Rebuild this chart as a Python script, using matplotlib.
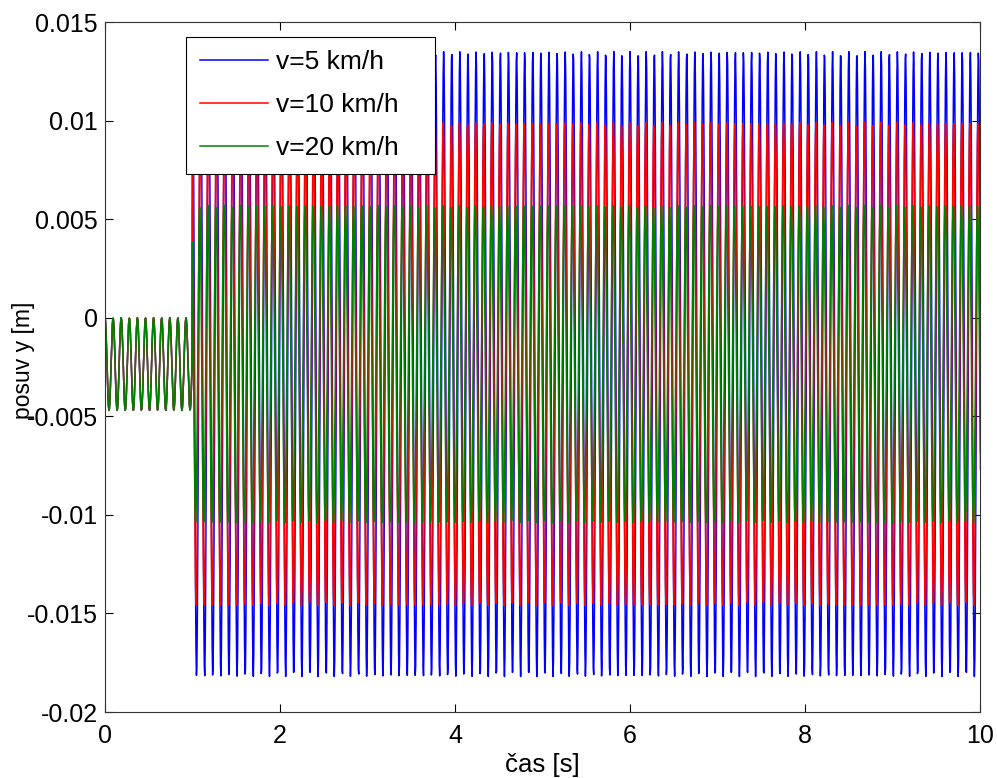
import numpy as np
import matplotlib
matplotlib.use("Agg")
import matplotlib.pyplot as plt

# values
labels = ["v=5 km/h", "v=10 km/h", "v=20 km/h"]
colors = ["#0000ff", "#ff0000", "#008000"]
upper = [0.0135, 0.0099, 0.0057]      # top of the oscillation after t = 1 s
lower = [-0.0182, -0.0146, -0.0104]   # bottom of the oscillation after t = 1 s
phase = [0.0, 0.35, 0.7]              # small phase shift between the runs [rad]
pre_low = -0.0047                     # bottom of the common oscillation before t = 1 s
t_hit = 1.0                           # time of the step [s]
freq = 10.8                           # oscillation frequency [Hz]
dt = 0.005
t_end = 10.0

xticks = [0, 2, 4, 6, 8, 10]
yticks = [-0.02, -0.015, -0.01, -0.005, 0, 0.005, 0.01, 0.015]
ytick_labels = ["-0.02", "-0.015", "-0.01", "-0.005", "0", "0.005", "0.01", "0.015"]

plt.rcParams['font.family'] = ['Liberation Sans', 'DejaVu Sans']

t = np.arange(0, t_end + dt, dt)
w = 2 * np.pi * freq

fig = plt.figure(figsize=(9.97, 7.78), dpi=100)
ax = fig.add_axes([0.1053, 0.0848, 0.8777, 0.8869])

for lab, col, hi, lo, ph in zip(labels, colors, upper, lower, phase):
    mid = (hi + lo) / 2
    amp = (hi - lo) / 2
    y = np.where(t < t_hit,
                 pre_low * (1 - np.cos(w * t)) / 2,
                 mid + amp * np.cos(w * (t - t_hit) + ph))
    ax.plot(t, y, color=col, lw=1.1, label=lab)

ax.set_xlim(0, 10)
ax.set_ylim(-0.02, 0.015)
ax.set_xticks(xticks)
ax.set_yticks(yticks)
ax.set_yticklabels(ytick_labels)
ax.tick_params(direction='in', top=True, right=True, length=6, width=0.8,
               labelsize=18)
ax.tick_params(axis='y', pad=5)
ax.tick_params(axis='x', pad=8.6)
for s in ax.spines.values():
    s.set_linewidth(0.8)
    s.set_color('#333333')

ax.set_xlabel('čas [s]', fontsize=18.5, labelpad=3.6)
ax.set_ylabel('posuv y [m]', fontsize=16.5)
ax.yaxis.set_label_coords(-0.080, 0.51)

leg = ax.legend(loc='upper left', bbox_to_anchor=(0.0926, 0.0, 0.2846, 0.979),
                mode='expand', borderaxespad=0,
                fontsize=19, fancybox=False, edgecolor='black', framealpha=1,
                handlelength=2.58, handletextpad=0.3, labelspacing=0.71,
                borderpad=0.53)
leg.get_frame().set_linewidth(0.8)

fig.savefig('out.png', dpi=100)
